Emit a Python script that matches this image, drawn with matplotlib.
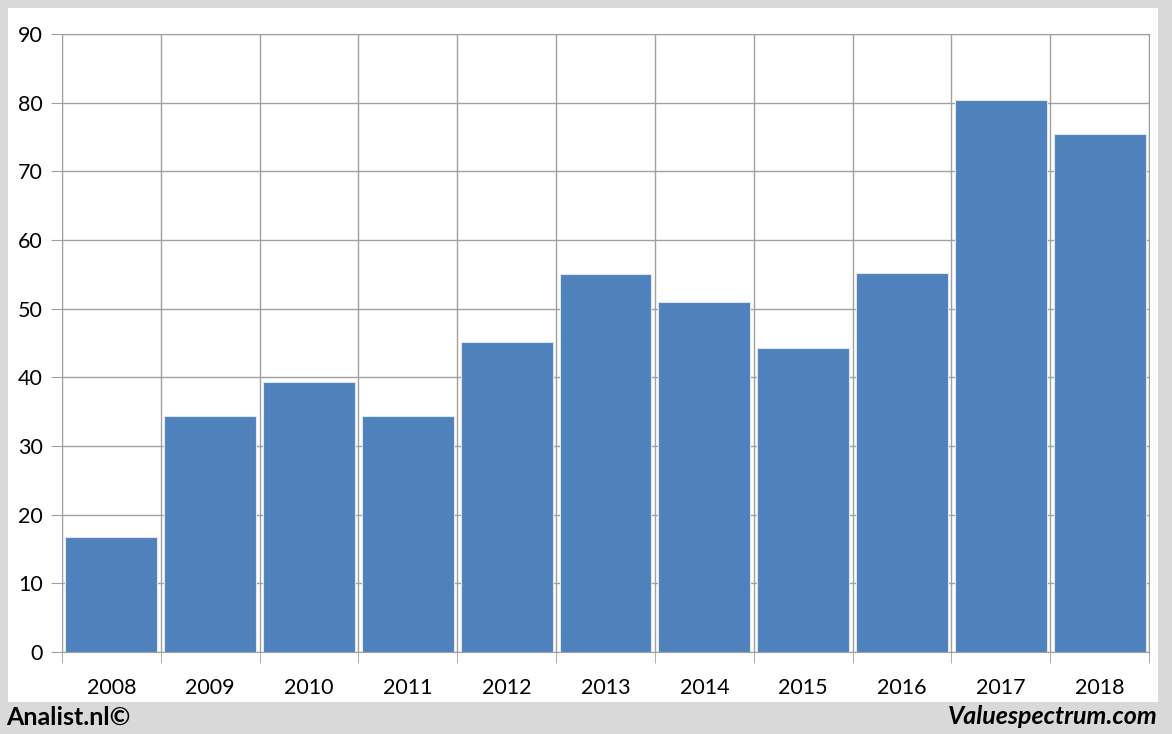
import numpy as np
from matplotlib import pyplot as plt
from matplotlib.patches import Rectangle

years = ["2008", "2009", "2010", "2011", "2012", "2013", "2014", "2015", "2016", "2017", "2018"]
values = [16.7, 34.4, 39.3, 34.4, 45.1, 55.0, 51.0, 44.3, 55.2, 80.4, 75.4]
y_ticks = [0, 10, 20, 30, 40, 50, 60, 70, 80, 90]

plt.rcParams["font.family"] = ["Lato", "DejaVu Sans"]

fig = plt.figure(figsize=(11.72, 7.34), dpi=100, facecolor="#d9d9d9")
# white panel behind the chart
fig.patches.append(
    Rectangle((8 / 1172, 1 - 702 / 734), 1150 / 1172, 694 / 734,
              transform=fig.transFigure, facecolor="white", edgecolor="none", zorder=-5)
)

ax = fig.add_axes([62 / 1172, 1 - 652 / 734, 1087 / 1172, 618 / 734])
x = np.arange(len(years))
ax.bar(x, values, width=0.93, color="#4f81bd", edgecolor="#dce6f2", linewidth=0.8, zorder=3)

ax.set_xlim(-0.5, len(years) - 0.5)
ax.set_ylim(0, 90)
ax.set_yticks(y_ticks)
ax.set_xticks(x)
ax.set_xticklabels(years)
ax.set_xticks(np.arange(len(years) + 1) - 0.5, minor=True)

ax.tick_params(axis="x", which="major", length=0, pad=19, labelsize=15.5)
ax.tick_params(axis="x", which="minor", length=8, color="#a0a0a0")
ax.tick_params(axis="y", length=8, color="#a0a0a0", pad=6, labelsize=15.5)

ax.grid(axis="y", which="major", color="#a0a0a0", linewidth=1, zorder=0)
ax.grid(axis="x", which="minor", color="#a0a0a0", linewidth=1, zorder=0)
ax.set_axisbelow(True)
for s in ax.spines.values():
    s.set_color("#a0a0a0")

fig.text(6 / 1172, 1 - 717 / 734, "Analist.nl©", fontsize=18, fontweight="bold",
         ha="left", va="center")
fig.text(1158 / 1172, 1 - 717 / 734, "Valuespectrum.com", fontsize=18, fontweight="bold",
         fontstyle="italic", ha="right", va="center")

fig.savefig("out.png", dpi=100, facecolor=fig.get_facecolor())
